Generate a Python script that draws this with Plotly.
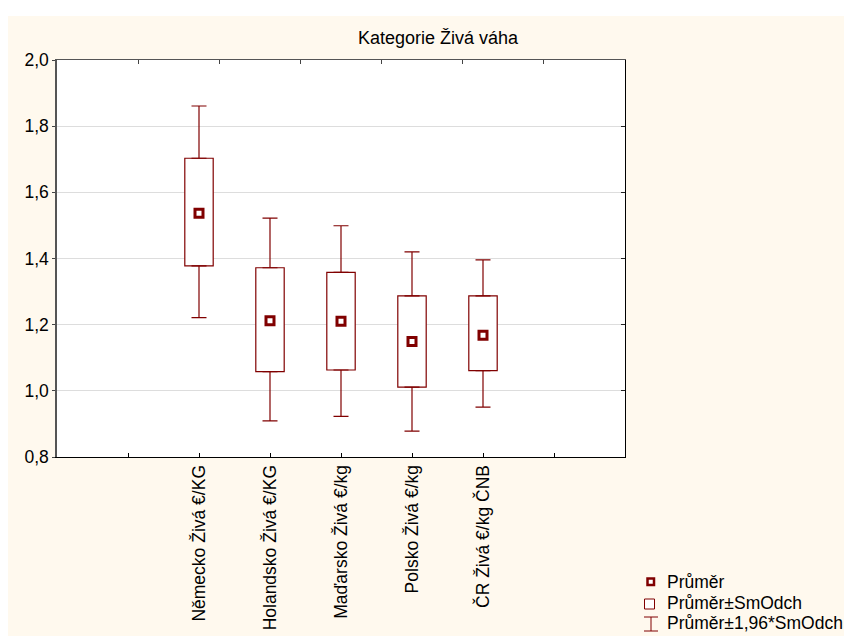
import plotly.graph_objects as go

categories = ["Německo Živá €/KG", "Holandsko Živá €/KG", "Maďarsko Živá €/kg",
              "Polsko Živá €/kg", "ČR Živá €/kg ČNB"]
means = [1.537, 1.212, 1.210, 1.149, 1.168]
box_lo = [1.378, 1.058, 1.063, 1.011, 1.061]
box_hi = [1.703, 1.372, 1.358, 1.287, 1.287]
whisk_lo = [1.221, 0.909, 0.923, 0.878, 0.951]
whisk_hi = [1.861, 1.522, 1.499, 1.420, 1.396]
y_ticks = [0.8, 1.0, 1.2, 1.4, 1.6, 1.8, 2.0]

RED = "#800000"
BG = "#FFF9EE"
FONT = "Liberation Sans, Arial, sans-serif"
FS = 17.5

W, H = 844, 636
L, R, T, B = 57, 219, 60, 179
PW, PH = W - L - R, H - T - B

def px(x):
    return (x - L) / PW

def py(y):
    return (H - B - y) / PH

pos = [i + 2 for i in range(len(categories))]
box_h = [h - l for h, l in zip(box_hi, box_lo)]
up_err = [w - h for w, h in zip(whisk_hi, box_hi)]
lo_err = [l - w for l, w in zip(box_lo, whisk_lo)]

fig = go.Figure()
fig.add_trace(go.Scatter(
    x=pos, y=box_hi, mode="markers", marker=dict(size=0.1, opacity=0), showlegend=False,
    error_y=dict(type="data", symmetric=False, array=up_err, arrayminus=[0] * len(pos),
                 color=RED, thickness=1.2, width=7.5), hoverinfo="skip"))
fig.add_trace(go.Scatter(
    x=pos, y=box_lo, mode="markers", marker=dict(size=0.1, opacity=0), showlegend=False,
    error_y=dict(type="data", symmetric=False, array=[0] * len(pos), arrayminus=lo_err,
                 color=RED, thickness=1.2, width=7.5), hoverinfo="skip"))
fig.add_trace(go.Bar(
    x=pos, y=box_h, base=box_lo, width=0.4, showlegend=False,
    marker=dict(color="white", line=dict(color=RED, width=1.2)), hoverinfo="skip"))
fig.add_trace(go.Scatter(
    x=pos, y=means, mode="markers", showlegend=False,
    marker=dict(symbol="square-open", size=8, color=RED, line=dict(color=RED, width=3))))
fig.add_trace(go.Scatter(x=[None], y=[None], xaxis="x2", yaxis="y2", showlegend=False))

shapes = [
    dict(type="rect", xref="paper", yref="paper", x0=px(-20), x1=px(8), y0=py(H + 20), y1=py(-20),
         fillcolor="white", line=dict(width=0), layer="below"),
    dict(type="rect", xref="paper", yref="paper", x0=px(-20), x1=px(W + 20), y0=py(16), y1=py(-20),
         fillcolor="white", line=dict(width=0), layer="below"),
    # legend icons
    dict(type="rect", xref="paper", yref="paper", x0=px(647.5), x1=px(654), y0=py(585), y1=py(578.5),
         fillcolor="white", line=dict(color=RED, width=2.5)),
    dict(type="rect", xref="paper", yref="paper", x0=px(644.5), x1=px(654.5), y0=py(609), y1=py(599),
         fillcolor="white", line=dict(color=RED, width=1)),
    dict(type="line", xref="paper", yref="paper", x0=px(651), x1=px(651), y0=py(631), y1=py(617),
         line=dict(color=RED, width=1)),
    dict(type="line", xref="paper", yref="paper", x0=px(644), x1=px(658), y0=py(617), y1=py(617),
         line=dict(color=RED, width=1)),
    dict(type="line", xref="paper", yref="paper", x0=px(644), x1=px(658), y0=py(631), y1=py(631),
         line=dict(color=RED, width=1)),
]

annotations = [
    dict(text="Kategorie Živá váha", x=px(438), y=py(38), xref="paper", yref="paper",
         xanchor="center", yanchor="middle", showarrow=False, font=dict(size=18, color="black")),
    dict(text="Průměr", x=px(665), y=py(582), xref="paper", yref="paper",
         xanchor="left", yanchor="middle", showarrow=False, font=dict(size=FS, color="black")),
    dict(text="Průměr±SmOdch", x=px(665), y=py(603), xref="paper", yref="paper",
         xanchor="left", yanchor="middle", showarrow=False, font=dict(size=FS, color="black")),
    dict(text="Průměr±1,96*SmOdch", x=px(665), y=py(623), xref="paper", yref="paper",
         xanchor="left", yanchor="middle", showarrow=False, font=dict(size=FS, color="black")),
]

fig.update_layout(
    width=W, height=H, margin=dict(l=L, r=R, t=T, b=B, pad=0), autosize=False,
    paper_bgcolor=BG, plot_bgcolor="white", barmode="overlay",
    font=dict(family=FONT, size=FS, color="black"),
    separators=", ", shapes=shapes, annotations=annotations,
    xaxis=dict(range=[0, 8], tickvals=[1, 2, 3, 4, 5, 6, 7], automargin=False,
               ticktext=[""] + categories + [""], tickangle=-90,
               ticks="inside", ticklen=4, tickcolor="black",
               showline=True, linecolor="black", linewidth=1,
               showgrid=False, zeroline=False, tickfont=dict(size=FS)),
    xaxis2=dict(range=[0, 7], overlaying="x", side="top", anchor="y2", automargin=False,
                tickvals=[1, 2, 3, 4, 5, 6], ticks="inside", ticklen=4, tickcolor="#444",
                showticklabels=False, showline=True, linecolor="#555", linewidth=1,
                showgrid=False, zeroline=False),
    yaxis=dict(range=[0.8, 2.0], tickvals=y_ticks, tickformat=".1f", automargin=False,
               ticks="outside", ticklen=3, tickcolor="#444",
               showline=True, linecolor="#555", linewidth=1.5,
               showgrid=True, gridcolor="#DDDDDD", gridwidth=1, zeroline=False,
               tickfont=dict(size=FS)),
    yaxis2=dict(range=[0.8, 2.0], overlaying="y", side="right", anchor="x2", automargin=False,
                tickvals=y_ticks, ticks="inside", ticklen=4, tickcolor="#222",
                showticklabels=False, showline=True, linecolor="black", linewidth=1,
                showgrid=False, zeroline=False),
)

fig.write_html(
    "out.html",
    post_script="document.body.style.margin='0';document.body.style.background='#FFF9EE';",
)
